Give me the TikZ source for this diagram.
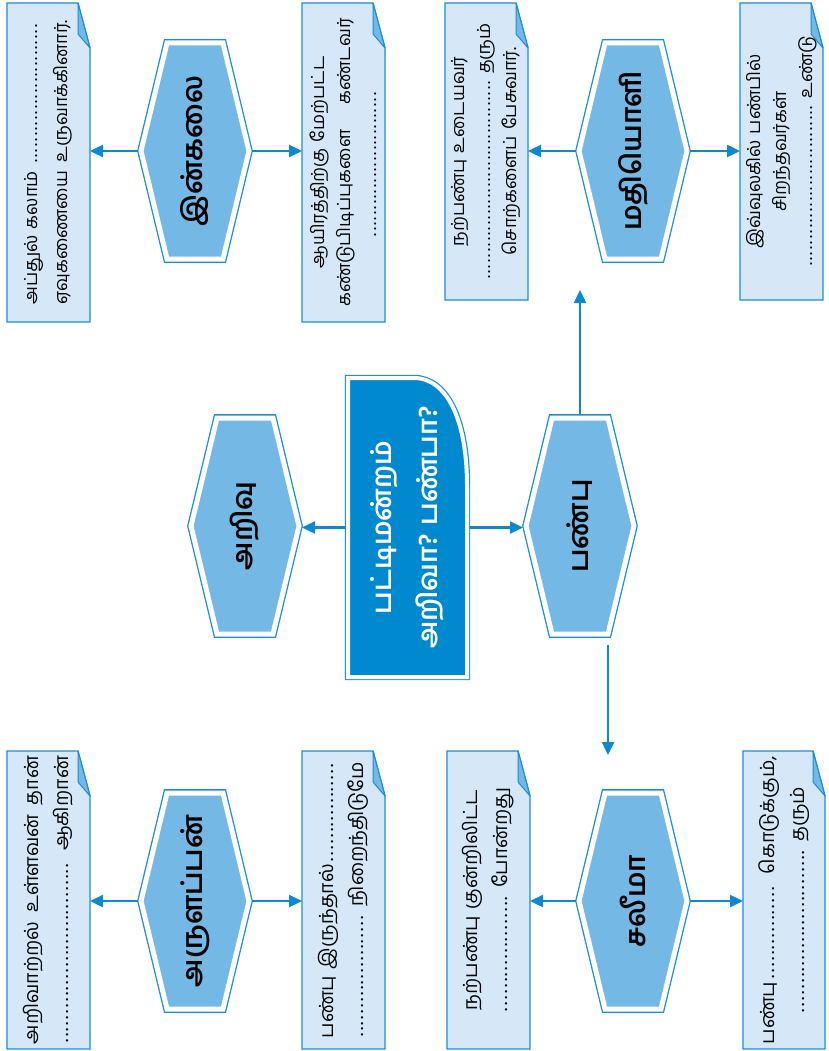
\documentclass[tikz,border=0pt]{standalone}
\usepackage{fontspec}
\newfontfamily\tamil[Script=Tamil]{Hind Madurai}
\usetikzlibrary{calc,positioning,arrows.meta}

\definecolor{frameblue}{HTML}{1B8FD5}
\definecolor{notefill}{HTML}{D6E8F7}
\definecolor{hexfill}{HTML}{74B9E6}
\definecolor{mainfill}{HTML}{0089CF}
\definecolor{arrowblue}{HTML}{0B8AD3}

\newcommand\dotrun{\leavevmode\leaders\hbox to 0.3em{\hss.\hss}\hfill\kern0pt}
\newcommand\dotspan[1]{\leavevmode\hbox to #1{\dotrun}}
\newcommand\fullline[1]{\leavevmode\hbox to \hsize{#1}}

\tikzset{
	link/.style={draw=arrowblue, line width=2.4pt, -{Triangle[length=13pt,width=12pt]}},
	notebox/.style={draw=frameblue, fill=notefill, line width=1.4pt},
	foldtip/.style={draw=frameblue, fill=hexfill, line width=1pt, line join=round},
	notetext/.style={rotate=90, inner sep=0pt, outer sep=0pt, align=center,
		font=\tamil\fontsize{19.5}{30}\selectfont},
	threeline/.style={font=\tamil\fontsize{18}{26}\selectfont},
	hexframe/.style={preaction={draw=frameblue, line width=7.6pt}, fill=hexfill,
		draw=white, line width=5pt},
	hexlabel/.style={rotate=90, inner sep=0pt, outer sep=0pt, minimum width=222pt,
		minimum height=114pt, font=\tamil\bfseries\fontsize{28}{32}\selectfont},
	mainframe/.style={preaction={draw=frameblue, line width=6.4pt}, fill=mainfill,
		draw=white, line width=4pt},
	mainlabel/.style={rotate=90, inner sep=0pt, outer sep=0pt, minimum width=305pt,
		minimum height=125pt, align=center, text=white,
		font=\tamil\bfseries\fontsize{27}{46}\selectfont},
}

% note with folded corner: style, name, left, top, right, bottom, text
\newcommand\notecell[7][]{%
	\draw[notebox] (#3,#4) -- (#5-12,#4) -- (#5,#4+45) -- (#5,#6) -- (#3,#6) -- cycle;
	\draw[foldtip] (#5-12,#4) -- (#5-12,#4+31) -- (#5,#4+45) -- cycle;
	\node[notetext, minimum width={(#6-#4)*1pt}, minimum height={(#5-#3)*1pt}, #1]
		(#2) at ({(#3+#5)/2},{(#4+#6)/2}) {#7};
}

% hexagon: name, x, y, label
\newcommand\hexcell[4]{%
	\draw[hexframe] (#2-54,#3) -- (#2-28,#3-108) -- (#2+28,#3-108) -- (#2+54,#3)
		-- (#2+28,#3+108) -- (#2-28,#3+108) -- cycle;
	\node[hexlabel] (#1) at (#2,#3) {#4};
}

\begin{document}
\begin{tikzpicture}[x=1pt, y=-1pt]
	\useasboundingbox (0,0) rectangle (828,1051);

	% upper notes
	\notecell[text width=284pt, font=\tamil\fontsize{18}{30}\selectfont]{abdul}{7}{3}{90}{322}{\fullline{அப்துல் கலாம்\ \dotrun}\\ \fullline{ஏவுகணையை\hfill உருவாக்கினார்.}}
	\notecell[text width=288pt, threeline]{edison}{302}{3}{385}{322}{ஆயிரத்திற்கு மேற்பட்ட\\ \fullline{கண்டுபிடிப்புகளை\hfill கண்டவர்}\\ \dotspan{150pt}}
	\notecell[text width=257pt, threeline]{nalla}{445}{3}{528}{300}{நற்பண்பு உடையவர்\\ \fullline{\dotrun\ தரும்}\\ சொற்களைப் பேசுவார்.}
	\notecell[text width=231pt, threeline]{ivvulagu}{740}{3}{823}{300}{இவ்வுலகில் பண்பில்\\ சிறந்தவர்கள்\\ \fullline{\dotrun\ உண்டு}}

	% lower notes
	\notecell[text width=288pt]{arivu1}{7}{751}{90}{1049}{\fullline{அறிவாற்றல்\hfill உள்ளவன்\hfill தான்}\\ \fullline{\dotrun\ ஆகிறான்}}
	\notecell[text width=276pt]{panbu1}{302}{751}{385}{1049}{\fullline{பண்பு இருந்தால்\dotrun}\\ \fullline{\dotrun\ நிறைந்திடுமே}}
	\notecell[text width=225pt]{kunru}{447}{751}{530}{1049}{நற்பண்பு குன்றிலிட்ட\\ \fullline{\dotrun\ போன்றது}}
	\notecell[text width=288pt]{kodai}{743}{751}{825}{1049}{\fullline{பண்பு\dotrun\ கொடுக்கும்,}\\ \dotspan{165pt}\ தரும்}

	% speakers
	\hexcell{inkalai}{195}{151}{இன்கலை}
	\hexcell{mathi}{633}{151}{மதியொளி}
	\hexcell{arivu}{245}{526}{அறிவு}
	\hexcell{pannbu}{580}{526}{பண்பு}
	\hexcell{arul}{195}{901}{அருளப்பன்}
	\hexcell{salima}{633}{901}{சலீமா}

	% topic
	\draw[mainframe] (348,378) -- (414,378) .. controls (446,378) and (467,418) .. (467,486)
		-- (467,677) -- (348,677) -- cycle;
	\node[mainlabel] (debate) at (407.5,527.5) {பட்டிமன்றம்\\அறிவா? பண்பா?};

	% arrows
	\draw[link] (debate.north) -- (debate.north -| arivu.south);
	\draw[link] (debate.south) -- (debate.south -| pannbu.north);
	\coordinate (uptip) at ($(pannbu.east)+(0,-125)$);
	\draw[link] (pannbu.east) -- (uptip);
	\coordinate (dnfoot) at ($(pannbu.west)+(28,8)$);
	\coordinate (dntip) at ($(dnfoot)+(0,110)$);
	\draw[link] (dnfoot) -- (dntip);

	\draw[link] (inkalai.north) -- (inkalai.north -| abdul.south);
	\draw[link] (inkalai.south) -- (inkalai.south -| edison.north);
	\draw[link] (mathi.north) -- (mathi.north -| nalla.south);
	\draw[link] (mathi.south) -- (mathi.south -| ivvulagu.north);
	\draw[link] (arul.north) -- (arul.north -| arivu1.south);
	\draw[link] (arul.south) -- (arul.south -| panbu1.north);
	\draw[link] (salima.north) -- (salima.north -| kunru.south);
	\draw[link] (salima.south) -- (salima.south -| kodai.north);
\end{tikzpicture}
\end{document}
